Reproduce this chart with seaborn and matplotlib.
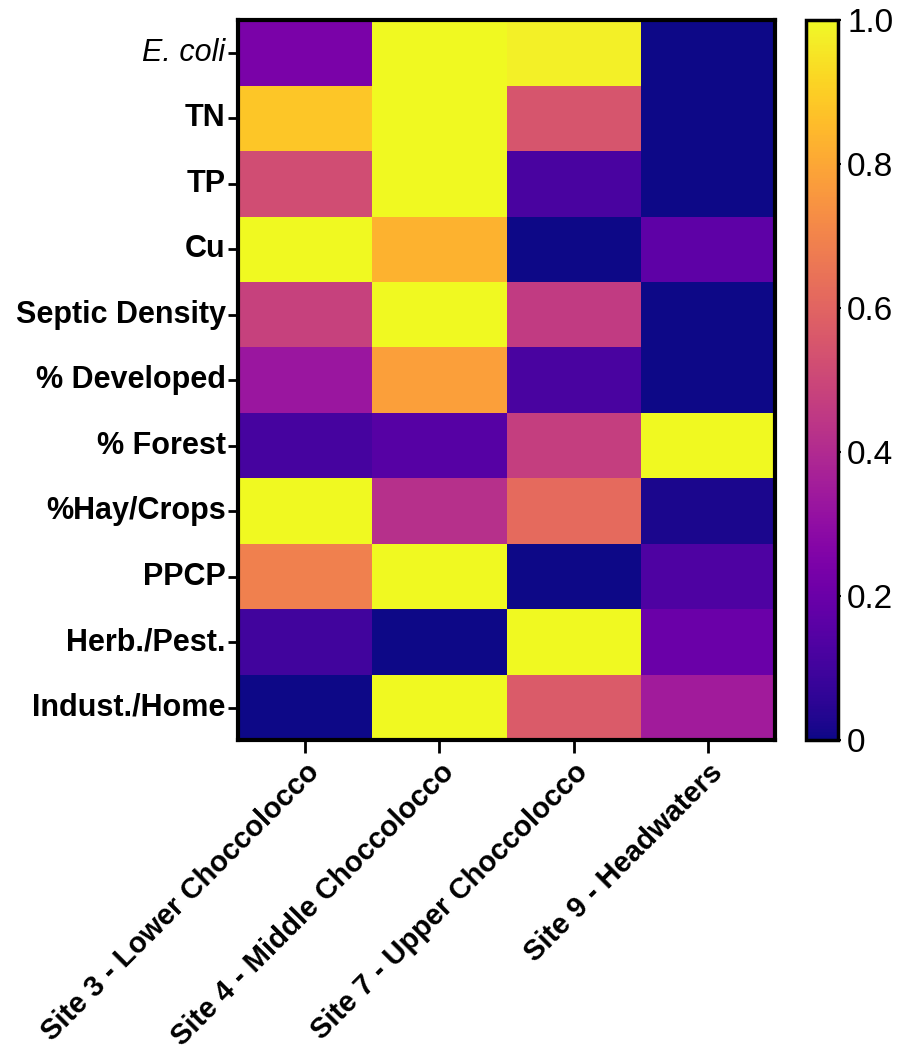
import numpy as np
import pandas as pd
import matplotlib
matplotlib.use("Agg")
import matplotlib.pyplot as plt
import seaborn as sns

# Normalised (0-1) values per variable and site
variables = ["E. coli", "TN", "TP", "Cu", "Septic Density", "% Developed",
             "% Forest", "%Hay/Crops", "PPCP", "Herb./Pest.", "Indust./Home"]
sites = ["Site 3 - Lower Choccolocco", "Site 4 - Middle Choccolocco",
         "Site 7 - Upper Choccolocco", "Site 9 - Headwaters"]

site3 = [0.24, 0.88, 0.52, 1.00, 0.48, 0.33, 0.11, 1.00, 0.69, 0.10, 0.00]
site4 = [1.00, 1.00, 1.00, 0.83, 1.00, 0.78, 0.15, 0.42, 1.00, 0.00, 1.00]
site7 = [0.98, 0.55, 0.12, 0.00, 0.46, 0.12, 0.47, 0.62, 0.00, 1.00, 0.57]
site9 = [0.00, 0.00, 0.00, 0.17, 0.00, 0.00, 1.00, 0.02, 0.13, 0.20, 0.35]

cbar_ticks = [0, 0.2, 0.4, 0.6, 0.8, 1.0]
cbar_labels = ["0", "0.2", "0.4", "0.6", "0.8", "1.0"]

df = pd.DataFrame({s: v for s, v in zip(sites, [site3, site4, site7, site9])},
                  index=variables)

sns.set_style("white")
plt.rcParams["font.family"] = ["Liberation Sans", "DejaVu Sans"]

fig = plt.figure(figsize=(9.03, 10.59), dpi=100)
ax = fig.add_axes([0.2636, 0.301, 0.5947, 0.680])
cax = fig.add_axes([0.8926, 0.301, 0.0354, 0.680])

sns.heatmap(df, cmap="plasma", vmin=0, vmax=1, ax=ax, cbar_ax=cax,
            linewidths=0, square=False)

# frame of the heatmap
for sp in ax.spines.values():
    sp.set_visible(True)
    sp.set_linewidth(3)
    sp.set_color("black")

ax.tick_params(axis="y", left=True, length=7, width=2, pad=2, colors="black")
ax.tick_params(axis="x", bottom=True, length=9, width=2, pad=4, colors="black")

ax.set_yticklabels(variables, rotation=0, fontsize=22, fontweight="bold")
for lbl in ax.get_yticklabels():
    if lbl.get_text() == "E. coli":
        lbl.set_fontstyle("italic")
        lbl.set_fontweight("normal")

ax.set_xticklabels(sites, rotation=45, ha="right", rotation_mode="anchor",
                   fontsize=21, fontweight="bold")
ax.set_xlabel("")
ax.set_ylabel("")

# colourbar styling
cbar = ax.collections[0].colorbar
cbar.set_ticks(cbar_ticks)
cbar.set_ticklabels(cbar_labels)
cbar.outline.set_visible(True)
cbar.outline.set_linewidth(2.5)
cbar.outline.set_edgecolor("black")
cax.tick_params(labelsize=24, length=5, width=1.5, direction="inout",
                colors="black", pad=4)

fig.savefig("out.png", dpi=100)
